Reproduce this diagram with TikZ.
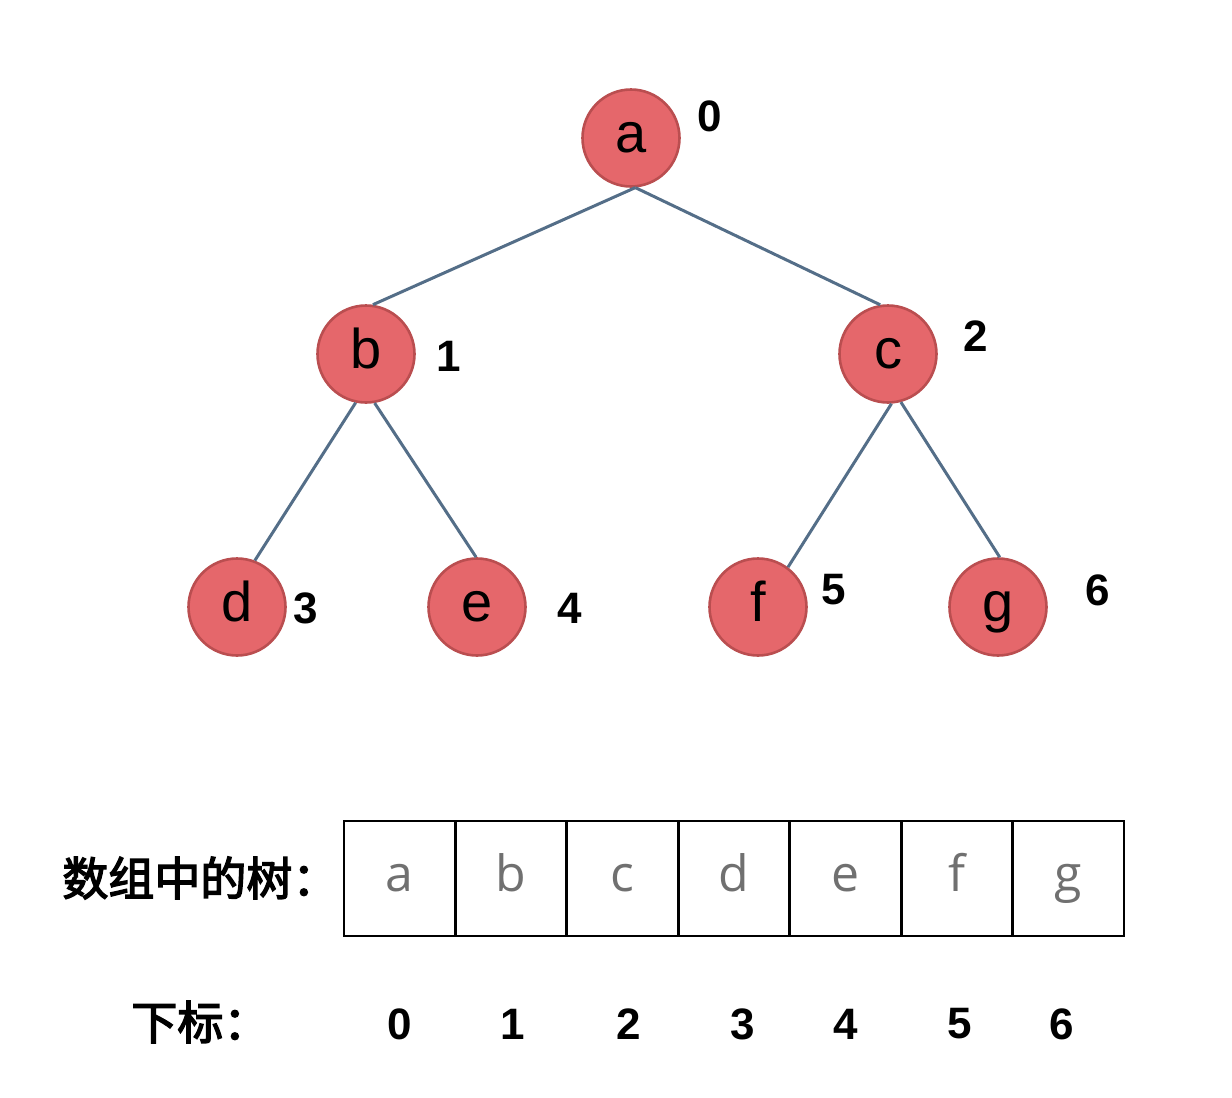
\documentclass[tikz,border=0pt]{standalone}
\usepackage{fontspec}
\setmainfont{Liberation Sans}
\newfontfamily\cjk[FakeBold=3]{Noto Sans CJK SC}
\newfontfamily\arrfont{Open Sans}
\usepackage{tikz}
\usetikzlibrary{positioning}
\definecolor{nodefill}{RGB}{229,103,107}
\definecolor{nodeborder}{RGB}{186,78,80}
\definecolor{edgecol}{RGB}{84,110,136}
\definecolor{cellgray}{RGB}{112,112,112}

\begin{document}
\begin{tikzpicture}[x=0.5pt,y=-0.5pt,
		treenode/.style={circle,draw=nodeborder,fill=nodefill,line width=1.3pt,minimum size=48.5pt,inner sep=0pt,text height=21pt,text depth=7pt,font=\fontsize{28}{30}\selectfont},
		edge/.style={draw=edgecol,line width=1.5pt},
		idx/.style={inner sep=0pt,font=\fontsize{22}{24}\selectfont\bfseries},
		cell/.style={draw,line width=1.4pt,minimum width=55.7pt,minimum height=57.5pt,inner sep=0pt,text=cellgray,text height=20pt,text depth=6.6pt,font=\arrfont\fontsize{25}{28}\selectfont},
		cnlabel/.style={anchor=west,inner sep=0pt,font=\cjk\fontsize{23}{26}\selectfont}]
						\useasboundingbox (0,0) rectangle (1232,1098);

						\node[treenode] (a) at (631,138) {a};
						\node[treenode] (b) at (366,354) {b};
						\node[treenode] (c) at (888,354) {c};
						\node[treenode] (d) at (237,607) {d};
						\node[treenode] (e) at (477,607) {e};
						\node[treenode] (f) at (758,607) {f};
						\node[treenode] (g) at (998,607) {g};

						\node[idx] (na) at (710,116) {0};
						\node[idx] (nb) at (449,356) {1};
						\node[idx] (nc) at (976,336) {2};
						\node[idx] (nd) at (306,608) {3};
						\node[idx] (ne) at (570,608) {4};
						\node[idx] (nf) at (834,590) {5};
						\node[idx] (ng) at (1098,590) {6};

						\draw[edge] (a.-85) -- (b.82);
						\draw[edge] (a.-85) -- (c.99);
						\draw[edge] (b.-102) -- (d.69);
						\draw[edge] (b.-80) -- (e.91);
						\draw[edge] (c.-86) -- (f.53);
						\draw[edge] (c.-75) -- (g.88);

						\node[cnlabel] (arrlabel) at (62,878) {数组中的树：};
						\node[cnlabel] (idxlabel) at (131,1022) {下标：};

						\foreach \l [count=\i from 0] in {a,b,c,d,e,f,g}
							\node[cell] (cell\i) at ({399.7+111.43*\i},878.5) {\l};

						\foreach \x [count=\i from 0] in {400,513,629,743,846,960,1062}
							\node[idx] (idx\i) at (\x,1024) {\i};
					\end{tikzpicture}
\end{document}
